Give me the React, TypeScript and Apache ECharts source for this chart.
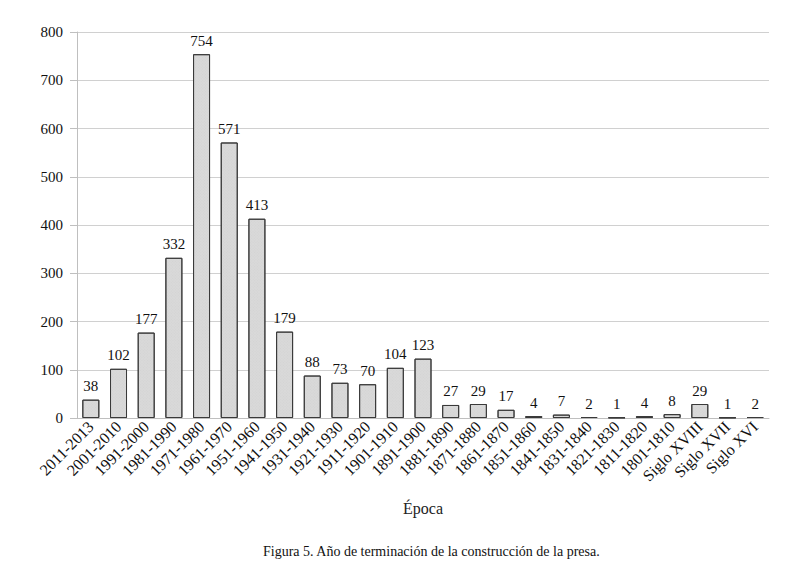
import React, { useEffect, useRef } from "react";
import * as echarts from "echarts";

const categories = [
  "2011-2013", "2001-2010", "1991-2000", "1981-1990", "1971-1980", "1961-1970",
  "1951-1960", "1941-1950", "1931-1940", "1921-1930", "1911-1920", "1901-1910",
  "1891-1900", "1881-1890", "1871-1880", "1861-1870", "1851-1860", "1841-1850",
  "1831-1840", "1821-1830", "1811-1820", "1801-1810", "Siglo XVIII", "Siglo XVII", "Siglo XVI",
];
const values = [38, 102, 177, 332, 754, 571, 413, 179, 88, 73, 70, 104, 123, 27, 29, 17, 4, 7, 2, 1, 4, 8, 29, 1, 2];
const yTicks = { min: 0, max: 800, interval: 100 };
const xAxisTitle = "Época";
const caption = "Figura 5. Año de terminación de la construcción de la presa.";

const FONT = "'Liberation Serif', 'DejaVu Serif', serif";

export default function App() {
  const ref = useRef<HTMLDivElement>(null);
  useEffect(() => {
    document.body.style.margin = "0";
    const chart = echarts.init(ref.current!, null, { renderer: "svg" });
    chart.setOption({
      animation: false,
      backgroundColor: "#ffffff",
      grid: { left: 77, right: 26, top: 32, bottom: 158 },
      xAxis: {
        type: "category",
        data: categories,
        name: xAxisTitle,
        nameLocation: "middle",
        nameGap: 82,
        nameTextStyle: { fontFamily: FONT, fontSize: 16, color: "#222" },
        axisLine: { lineStyle: { color: "#bfbfbf", width: 1 } },
        axisTick: { show: false },
        axisLabel: {
          rotate: 45,
          interval: 0,
          fontFamily: FONT,
          fontSize: 16,
          color: "#111",
          margin: 6,
        },
      },
      yAxis: {
        type: "value",
        min: yTicks.min,
        max: yTicks.max,
        interval: yTicks.interval,
        axisLine: { show: true, lineStyle: { color: "#bfbfbf", width: 1 } },
        axisTick: { show: true, length: 7, lineStyle: { color: "#bfbfbf" } },
        splitLine: { lineStyle: { color: "#d0d0d0", width: 1 } },
        axisLabel: { fontFamily: FONT, fontSize: 15, color: "#111", margin: 14 },
      },
      series: [
        {
          type: "bar",
          data: values,
          barWidth: 17,
          itemStyle: {
            color: "#d9d9d9",
            borderColor: "#3a3a3a",
            borderWidth: 1,
            decal: {
              symbol: "rect",
              symbolSize: 0.5,
              dashArrayX: [1, 1],
              dashArrayY: [1, 1],
              color: "rgba(120,120,120,0.25)",
              rotation: 0.78,
            },
          },
          label: {
            show: true,
            position: "top",
            distance: 6,
            fontFamily: FONT,
            fontSize: 15,
            color: "#111",
          },
        },
      ],
      graphic: [
        {
          type: "text",
          left: 263,
          top: 544,
          style: { text: caption, font: `14px ${FONT}`, fill: "#111" },
        },
      ],
    });
    return () => chart.dispose();
  }, []);
  return <div ref={ref} style={{ width: 795, height: 576 }} />;
}
